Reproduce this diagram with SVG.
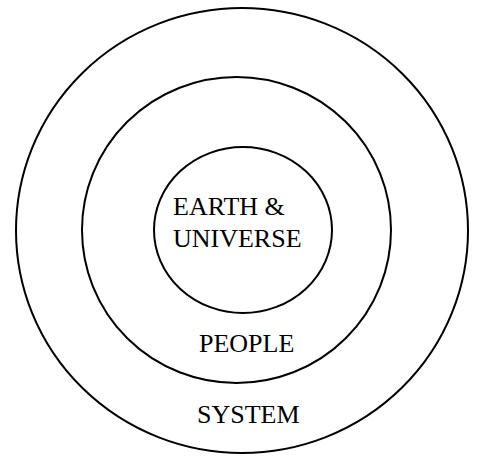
<svg xmlns="http://www.w3.org/2000/svg" width="479" height="457" viewBox="0 0 479 457">
<style>
.ring{fill:none;stroke:#000;stroke-width:2}
.lbl{font-family:"Liberation Serif","Times New Roman",serif;font-size:26px;fill:#000}
</style>
<rect width="479" height="457" fill="#fff"/>
<g id="system">
<ellipse class="ring" cx="242" cy="230.5" rx="226" ry="222.5"/>
<text class="lbl" x="197" y="423">SYSTEM</text>
</g>
<g id="people">
<ellipse class="ring" cx="236.5" cy="230" rx="154.5" ry="153"/>
<text class="lbl" x="199" y="352">PEOPLE</text>
</g>
<g id="earth-universe">
<ellipse class="ring" cx="243" cy="230" rx="89" ry="83"/>
<text class="lbl" x="173" y="215">EARTH &amp;</text>
<text class="lbl" x="173" y="247">UNIVERSE</text>
</g>
<g id="connectors"/>
</svg>
